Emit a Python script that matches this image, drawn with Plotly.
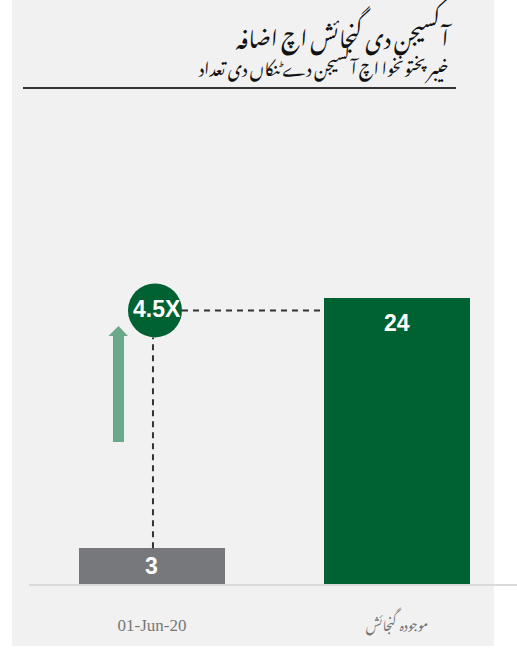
import plotly.graph_objects as go

# ---- data ----
categories = ["01-Jun-20", "موجوده گنجائش"]
values = [3, 24]
bar_colors = ["#77787b", "#006233"]
multiplier_label = "4.5X"
title_text = "آکسیجن دی گنجائش اچ اضافہ"
subtitle_text = "خیبر پختونخوا اچ آکسیجن دے ٹنکاں دی تعداد"

# ---- layout constants ----
W, H = 517, 658
ML, MR, MT, MB = 29, 0, 108, 74
PW, PH = W - ML - MR, H - MT - MB
XR = [-0.502, 1.490]
YR = [0, 40]
BAR_W = 0.596
px_x = PW / (XR[1] - XR[0])
px_y = PH / (YR[1] - YR[0])
URDU = "Noto Nastaliq Urdu, DejaVu Sans"


def px(xp):  # page px -> paper x
    return (xp - ML) / PW


def py(yp):  # page px -> paper y
    return (H - MB - yp) / PH


fig = go.Figure()
fig.add_trace(go.Bar(
    x=list(range(len(categories))), y=values,
    marker=dict(color=bar_colors, line=dict(width=0)),
    width=BAR_W, hoverinfo="skip",
))

shapes = []
# gray panel
shapes.append(dict(type="rect", xref="paper", yref="paper", layer="below",
                   x0=px(12), x1=px(494), y0=py(646), y1=py(0),
                   fillcolor="#f1f1f1", line=dict(width=0)))
# title rule
shapes.append(dict(type="line", xref="paper", yref="paper",
                   x0=px(23), x1=px(456), y0=py(88), y1=py(88),
                   line=dict(color="#333333", width=2)))

# circle with multiplier, anchored at first category / top value
R = 27
c_dx, c_dy = 3, -12
top_val = max(values)
shapes.append(dict(type="circle", xref="x", yref="y",
                   xsizemode="pixel", ysizemode="pixel",
                   xanchor=0, yanchor=top_val,
                   x0=c_dx - R, x1=c_dx + R, y0=c_dy - R, y1=c_dy + R,
                   fillcolor="#006233", line=dict(width=0)))

dash_style = dict(color="#333333", width=2, dash="6px,5px")
# horizontal dashed connector
shapes.append(dict(type="line", xref="x", yref="y",
                   x0=(c_dx + R) / px_x, x1=1 - BAR_W / 2,
                   y0=top_val + c_dy / px_y, y1=top_val + c_dy / px_y,
                   line=dash_style))
# vertical dashed connector
shapes.append(dict(type="line", xref="x", yref="y",
                   x0=1 / px_x, x1=1 / px_x,
                   y0=values[0], y1=top_val + (c_dy - R) / px_y,
                   line=dash_style))

# up arrow (pixel path anchored at category 0, baseline)
ax0, ax1, hx0, hx1, tipx = -39, -28, -43.5, -24, -33.5
yb, yh, yt = 142, 248, 258
path = (f"M {ax0} {yb} L {ax1} {yb} L {ax1} {yh} L {hx1} {yh} "
        f"L {tipx} {yt} L {hx0} {yh} L {ax0} {yh} Z")
shapes.append(dict(type="path", xref="x", yref="y",
                   xsizemode="pixel", ysizemode="pixel",
                   xanchor=0, yanchor=0, path=path,
                   fillcolor="#6ba78a", line=dict(width=0)))

annotations = []
label_shift = [-3, -10]
for i, v in enumerate(values):
    annotations.append(dict(x=i, y=v, xref="x", yref="y", text=f"<b>{v}</b>",
                            showarrow=False, yanchor="top", yshift=label_shift[i],
                            font=dict(family="Arial, Liberation Sans", size=23, color="white")))
annotations.append(dict(x=0, y=top_val, xref="x", yref="y", text=f"<b>{multiplier_label}</b>",
                        showarrow=False, xshift=c_dx + 2, yshift=c_dy + 1,
                        font=dict(family="Arial, Liberation Sans", size=23, color="white")))
annotations.append(dict(x=px(455), y=py(41), xref="paper", yref="paper",
                        text=f"{title_text}<br><span style='font-size:17px'>{subtitle_text}</span>",
                        showarrow=False, xanchor="right", yanchor="middle", align="right",
                        font=dict(family=URDU, size=22, color="#111111")))

fig.update_layout(
    width=W, height=H,
    margin=dict(l=ML, r=MR, t=MT, b=MB, pad=0),
    paper_bgcolor="white", plot_bgcolor="rgba(0,0,0,0)",
    showlegend=False, shapes=shapes, annotations=annotations,
    bargap=0,
)
fig.update_xaxes(range=XR, tickvals=list(range(len(categories))),
                 ticktext=[categories[0],
                           f"<span style='font-size:13px'>{categories[1]}</span>"],
                 showgrid=False, zeroline=False, showline=True, linecolor="#dadada", linewidth=2,
                 ticks="", ticklabelstandoff=25,
                 tickfont=dict(family="Liberation Serif, Noto Nastaliq Urdu, DejaVu Sans",
                               size=17, color="#777777"))
fig.update_yaxes(range=YR, visible=False, showgrid=False, zeroline=False)

fig.write_html("out.html", config={"displayModeBar": False},
               post_script="document.body.style.margin='0';document.body.style.overflow='hidden';")
